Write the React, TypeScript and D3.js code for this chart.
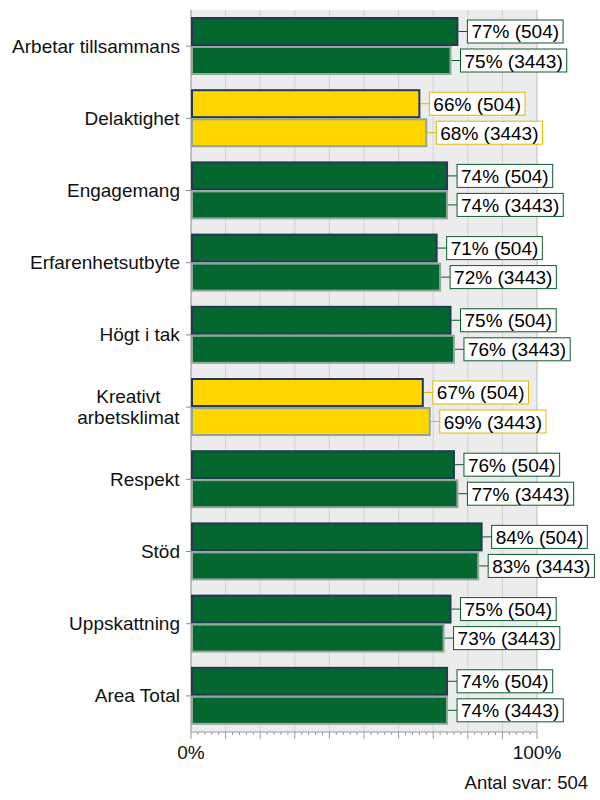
import React, { useEffect, useRef } from 'react';
import * as d3 from 'd3';

const categories = [
  'Arbetar tillsammans',
  'Delaktighet',
  'Engagemang',
  'Erfarenhetsutbyte',
  'Högt i tak',
  'Kreativt\narbetsklimat',
  'Respekt',
  'Stöd',
  'Uppskattning',
  'Area Total',
];
const seriesKeys = ['504', '3443'];
const values504 = [77, 66, 74, 71, 75, 67, 76, 84, 75, 74];
const values3443 = [75, 68, 74, 72, 76, 69, 77, 83, 73, 74];
const xTicks = ['0%', '100%'];
const footer = 'Antal svar: 504';

export default function App() {
  const svgRef = useRef<SVGSVGElement>(null);

  useEffect(() => {
    if (!svgRef.current) return;
    const svg = d3.select(svgRef.current);
    svg.selectAll('*').remove();

    const left = 191;
    const right = 537;
    const top = 10;
    const bottom = 732;
    const font = 'Liberation Sans, Arial, sans-serif';

    const x = d3.scaleLinear().domain([0, 100]).range([left, right]);
    const y = d3.scaleBand().domain(categories).range([top, bottom]);
    const sub = d3
      .scaleBand()
      .domain(seriesKeys)
      .range([8, 64])
      .paddingInner(0.07);

    const isYellow = (i: number) => values504[i] < 70;
    const green = '#04672f';
    const yellow = '#ffd500';

    // plot background
    svg
      .append('rect')
      .attr('x', left)
      .attr('y', top)
      .attr('width', right - left)
      .attr('height', bottom - top)
      .attr('fill', '#ececec');

    // gridlines
    svg
      .append('g')
      .selectAll('line')
      .data(d3.range(10, 101, 10))
      .enter()
      .append('line')
      .attr('x1', (d) => x(d))
      .attr('x2', (d) => x(d))
      .attr('y1', top)
      .attr('y2', bottom)
      .attr('stroke', (d) => (d === 100 ? '#bababa' : '#d2d2d2'))
      .attr('stroke-width', 1);

    // axes
    svg
      .append('line')
      .attr('x1', left)
      .attr('x2', left)
      .attr('y1', top)
      .attr('y2', bottom)
      .attr('stroke', '#8a8a8a');
    svg
      .append('line')
      .attr('x1', left)
      .attr('x2', right)
      .attr('y1', bottom)
      .attr('y2', bottom)
      .attr('stroke', '#9a9a9a');

    svg
      .append('g')
      .selectAll('line')
      .data(d3.range(0, 101, 2))
      .enter()
      .append('line')
      .attr('x1', (d) => x(d))
      .attr('x2', (d) => x(d))
      .attr('y1', bottom)
      .attr('y2', (d) => bottom + (d % 10 === 0 ? 7 : 3))
      .attr('stroke', '#9a9a9a');

    // category ticks + labels
    categories.forEach((c) => {
      const cy = (y(c) || 0) + y.bandwidth() / 2;
      svg
        .append('line')
        .attr('x1', left - 5)
        .attr('x2', left)
        .attr('y1', cy)
        .attr('y2', cy)
        .attr('stroke', '#8a8a8a');
      const lines = c.split('\n');
      const t = svg
        .append('text')
        .style('font-family', font)
        .style('font-size', '19px')
        .style('fill', '#111');
      lines.forEach((ln, k) => {
        t.append('tspan')
          .attr('x', 0)
          .attr('y', cy + 6.5 + (k - (lines.length - 1) / 2) * 21)
          .text(ln);
      });
      const w = (t.node() as SVGTextElement).getBBox().width;
      t.attr('text-anchor', 'middle');
      t.selectAll('tspan').attr('x', 180 - w / 2);
    });

    // bars
    const rows: { cat: string; key: string; v: number; i: number }[] = [];
    categories.forEach((c, i) => {
      rows.push({ cat: c, key: '504', v: values504[i], i });
      rows.push({ cat: c, key: '3443', v: values3443[i], i });
    });

    rows.forEach((r) => {
      const by = (y(r.cat) || 0) + (sub(r.key) || 0);
      const bh = sub.bandwidth();
      const fill = isYellow(r.i) ? yellow : green;
      svg
        .append('rect')
        .attr('x', left + 1)
        .attr('y', by)
        .attr('width', x(r.v) - left - 1)
        .attr('height', bh)
        .attr('fill', fill)
        .attr('stroke', r.key === '504' ? '#233a55' : '#8fa89c')
        .attr('stroke-width', 2);

      const labelColor = isYellow(r.i) ? '#e2b800' : '#0b5a2e';
      const cy = by + bh / 2;
      const bx = x(r.v) + 10;
      const txt = svg
        .append('text')
        .attr('x', bx + 4)
        .attr('y', cy + 7)
        .style('font-family', font)
        .style('font-size', '19px')
        .style('fill', '#000')
        .text(`${r.v}% (${r.key})`);
      const tw = (txt.node() as SVGTextElement).getComputedTextLength();
      svg
        .insert('rect', () => txt.node())
        .attr('x', bx)
        .attr('y', cy - 11.5)
        .attr('width', tw + 8)
        .attr('height', 23)
        .attr('fill', '#fff')
        .attr('stroke', labelColor)
        .attr('stroke-width', 1);
      svg
        .append('line')
        .attr('x1', x(r.v) + 1)
        .attr('x2', bx)
        .attr('y1', cy)
        .attr('y2', cy)
        .attr('stroke', labelColor);
    });

    // x tick labels
    svg
      .append('g')
      .selectAll('text')
      .data(xTicks)
      .enter()
      .append('text')
      .attr('x', (d, i) => x(i * 100))
      .attr('y', 759)
      .attr('text-anchor', 'middle')
      .style('font-family', font)
      .style('font-size', '19px')
      .style('fill', '#111')
      .text((d) => d);

    svg
      .append('text')
      .attr('x', 588)
      .attr('y', 789)
      .attr('text-anchor', 'end')
      .style('font-family', font)
      .style('font-size', '18.5px')
      .style('fill', '#111')
      .text(footer);
  }, []);

  return (
    <svg
      ref={svgRef}
      width={600}
      height={800}
      style={{ position: 'absolute', left: 0, top: 0, background: '#fff' }}
    ></svg>
  );
}
